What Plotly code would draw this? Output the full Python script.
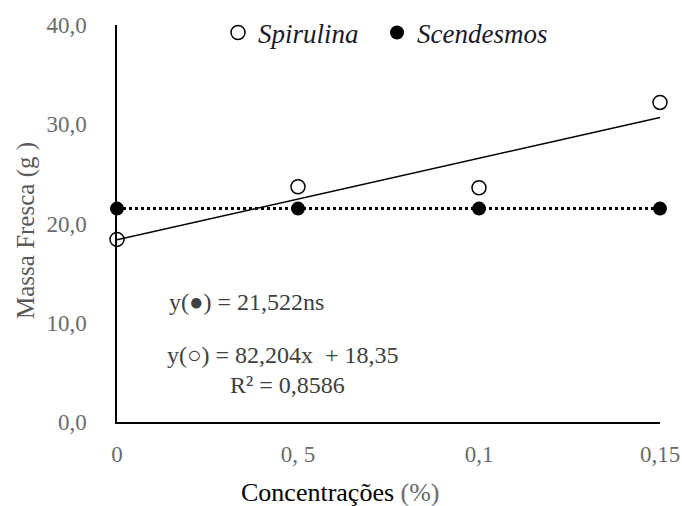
import plotly.graph_objects as go

categories = ["0", "0, 5", "0,1", "0,15"]
spirulina = [18.4, 23.7, 23.6, 32.2]
scendesmos = [21.5, 21.5, 21.5, 21.5]
trend_spirulina = [18.35, 30.68]      # y = 82,204x + 18,35 at ends
mean_scendesmos = [21.522, 21.522]
y_ticks = [0, 10, 20, 30, 40]
y_ticktext = ["0,0", "10,0", "20,0", "30,0", "40,0"]
series_names = ["Spirulina\u00a0\u00a0", "Scendesmos"]

pos = list(range(len(categories)))
ends = [pos[0], pos[-1]]

fig = go.Figure()
fig.add_trace(go.Scatter(x=ends, y=mean_scendesmos, mode="lines",
                         line=dict(color="black", width=3, dash="dot"),
                         showlegend=False, hoverinfo="skip", cliponaxis=False))
fig.add_trace(go.Scatter(x=ends, y=trend_spirulina, mode="lines",
                         line=dict(color="black", width=1.5),
                         showlegend=False, hoverinfo="skip", cliponaxis=False))
fig.add_trace(go.Scatter(x=pos, y=spirulina, mode="markers", name=series_names[0],
                         cliponaxis=False,
                         marker=dict(symbol="circle-open", size=14, color="black",
                                     line=dict(width=1.5, color="black"))))
fig.add_trace(go.Scatter(x=pos, y=scendesmos, mode="markers", name=series_names[1],
                         cliponaxis=False,
                         marker=dict(symbol="circle", size=14, color="black")))

tick_font = dict(family="Liberation Serif", size=23, color="#6b6b6b")

fig.update_layout(
    width=682, height=506,
    margin=dict(l=117, r=22, t=25, b=84, autoexpand=False),
    paper_bgcolor="white", plot_bgcolor="white",
    showlegend=True,
    legend=dict(orientation="h", x=(218 - 117) / 543, y=0.98, xanchor="left", yanchor="middle",
                font=dict(family="Liberation Serif", size=27, color="#1a1a2a", style="italic"),
                bgcolor="rgba(0,0,0,0)", itemwidth=30, tracegroupgap=0),
    xaxis=dict(range=[0, 3], tickvals=pos, ticktext=categories, showgrid=False,
               zeroline=False, showline=True, linecolor="black", linewidth=1.5,
               ticks="", tickfont=tick_font, ticklabelstandoff=11, automargin=False),
    yaxis=dict(range=[0, 40], tickvals=y_ticks, ticktext=y_ticktext, showgrid=False,
               zeroline=False, showline=True, linecolor="black", linewidth=1.5,
               ticks="", tickfont=tick_font, ticklabelstandoff=24, automargin=False),
    font=dict(family="Liberation Serif"),
)

ann_font = dict(family="Liberation Serif", size=24, color="#404040")
fig.add_annotation(xref="paper", yref="paper", x=(167 - 117) / 543, y=(422 - 302) / 397,
                   text="y(●) = 21,522ns", showarrow=False, xanchor="left", yanchor="middle", font=ann_font)
fig.add_annotation(xref="paper", yref="paper", x=(165 - 117) / 543, y=(422 - 355) / 397,
                   text="y(○) = 82,204x  + 18,35", showarrow=False, xanchor="left", yanchor="middle", font=ann_font)
fig.add_annotation(xref="paper", yref="paper", x=(228 - 117) / 543, y=(422 - 385) / 397,
                   text="R² = 0,8586", showarrow=False, xanchor="left", yanchor="middle", font=ann_font)
fig.add_annotation(xref="paper", yref="paper", x=(340 - 117) / 543, y=-(492 - 422) / 397,
                   text="Concentrações <span style='color:#6b6b6b'>(%)</span>", showarrow=False,
                   xanchor="center", yanchor="middle",
                   font=dict(family="Liberation Serif", size=26, color="black"))
fig.add_annotation(xref="paper", yref="paper", x=-(117 - 26) / 543, y=(422 - 231) / 397,
                   text="Massa Fresca (g )", showarrow=False, textangle=-90,
                   xanchor="center", yanchor="middle",
                   font=dict(family="Liberation Serif", size=25, color="#595959"))

fig.write_html("out.html")
